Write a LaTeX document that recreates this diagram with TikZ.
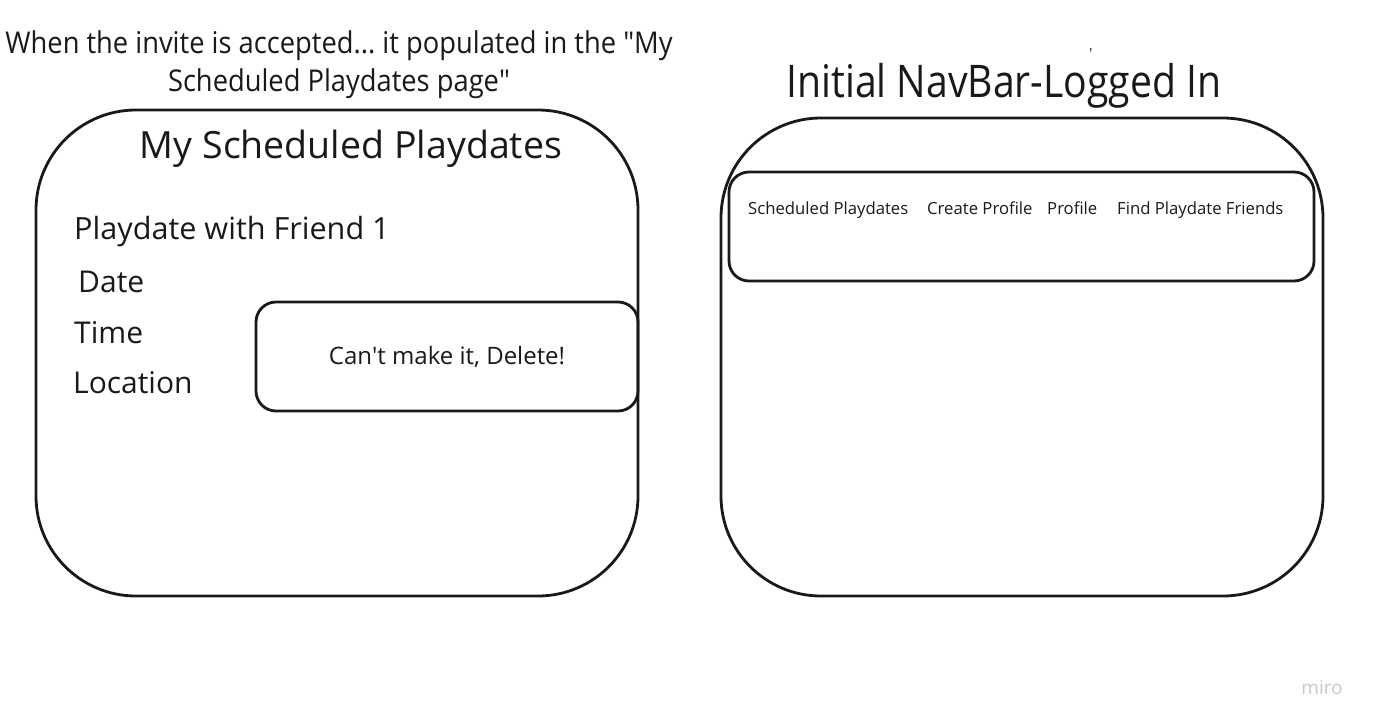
\documentclass[tikz,border=0pt]{standalone}
\usepackage{fontspec}
\setmainfont{Open Sans}
\usepackage{graphicx}
\usepackage{tikz}
\frenchspacing

\begin{document}
\begin{tikzpicture}[x=1pt,y=-1pt]
	\tikzstyle{screen}=[draw=black!90,line width=2.8pt,rounded corners=100pt,inner sep=0pt]
	\tikzstyle{button}=[draw=black!90,line width=2.8pt,rounded corners=20pt,inner sep=0pt]
	\tikzstyle{label}=[inner sep=0pt,text=black!90]
	\useasboundingbox (0,0) rectangle (1376,726);
	% left screen
	\node[screen,minimum width=602pt,minimum height=486pt] (sched) at (337,353) {};
	\node[button,minimum width=382pt,minimum height=109pt] (delete) at (447,356.5) {};
	\node[label,anchor=base,font=\fontsize{24}{28}\selectfont] (deltext) at (447,364) {Can\textquotesingle t make it, Delete!};
	\node[label,anchor=base,font=\fontsize{37.5}{44}\selectfont] (schedtitle) at (351,158) {My Scheduled Playdates};
	\node[label,anchor=base west,font=\fontsize{30.6}{36}\selectfont] (friend) at (74,239) {Playdate with Friend 1};
	\node[label,anchor=base west,font=\fontsize{30}{36}\selectfont] (date) at (78,292) {Date};
	\node[label,anchor=base west,font=\fontsize{30}{36}\selectfont] (time) at (74,343) {Time};
	\node[label,anchor=base west,font=\fontsize{30}{36}\selectfont] (location) at (73,393) {Location};
	\node[label,anchor=base,align=center,font=\fontsize{30}{38}\selectfont] (note) at (339,91) {\scalebox{0.91}[1]{When the invite is accepted{.}{.}{.}\ it populated in the \textquotedbl My}\\\scalebox{0.91}[1]{Scheduled Playdates page\textquotedbl}};
	% right screen
	\node[screen,minimum width=602pt,minimum height=478pt] (navscreen) at (1022,357) {};
	\node[button,minimum width=585pt,minimum height=109pt] (navbar) at (1021.5,226.5) {};
	\node[label,anchor=base,font=\fontsize{45}{50}\selectfont] (navtitle) at (1004,97) {\scalebox{0.87}[1]{Initial NavBar-Logged In}};
	\node[label,anchor=base west,font=\fontsize{16.7}{20}\selectfont] (nav1) at (748,214) {Scheduled Playdates};
	\node[label,anchor=base west,font=\fontsize{16.7}{20}\selectfont] (nav2) at (927,214) {Create Profile};
	\node[label,anchor=base west,font=\fontsize{16.7}{20}\selectfont] (nav3) at (1047,214) {Profile};
	\node[label,anchor=base west,font=\fontsize{16.7}{20}\selectfont] (nav4) at (1117,214) {Find Playdate Friends};
	\node[label,anchor=base,font=\fontsize{14}{16}\selectfont] (tick) at (1091,58) {\textquotesingle};
	\node[label,anchor=base,text=black!22,font=\fontsize{19}{22}\selectfont] (miro) at (1322,694) {miro};
\end{tikzpicture}
\end{document}
